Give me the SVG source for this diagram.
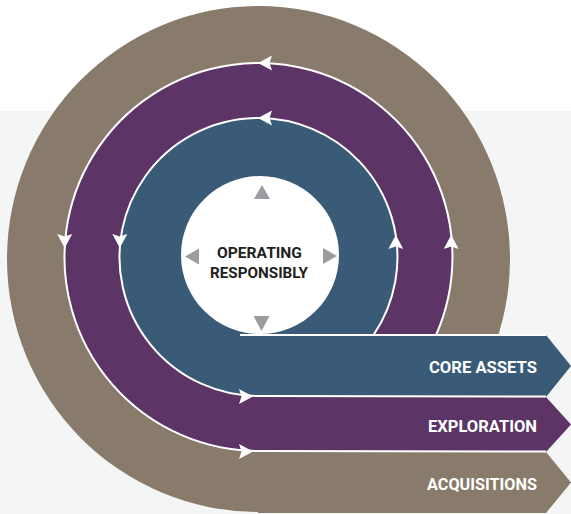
<svg xmlns="http://www.w3.org/2000/svg" xmlns:xlink="http://www.w3.org/1999/xlink" width="571" height="514" viewBox="0 0 571 514">
  <defs>
    <style>
      .tan { fill: #897b6b; }
      .purple { fill: #5c3466; }
      .blue { fill: #3a5b78; }
      .sep { fill: none; stroke: #ffffff; stroke-width: 2; }
      .tri { fill: #9b9ca0; }
      .band-label { font-family: "Roboto", "Liberation Sans", sans-serif; font-weight: 700; font-size: 17px; fill: #ffffff; text-anchor: end; }
      .hub-label { font-family: "Roboto", "Liberation Sans", sans-serif; font-weight: 700; font-size: 15.5px; fill: #231f20; text-anchor: middle; }
    </style>
    <!-- white arrowhead, tip at origin, pointing along +x -->
    <path id="head" d="M0,0 L-14,-7.5 L-11.5,0 L-14,7.5 Z" fill="#ffffff"/>
  </defs>

  <!-- page background -->
  <rect x="0" y="0" width="571" height="514" fill="#ffffff"/>
  <rect x="0" y="111" width="571" height="403" fill="#f4f5f5"/>

  <!-- concentric rings -->
  <g id="rings">
    <ellipse class="tan" cx="258.5" cy="259" rx="251.5" ry="253"/>
    <circle class="purple" cx="258.5" cy="257" r="194"/>
    <circle class="blue" cx="258.5" cy="257" r="139"/>
  </g>

  <!-- outgoing bands -->
  <g id="core-assets">
    <path class="blue" d="M258,335 L546,335 L571,366 L546,397 L258,397 Z"/>
    <text class="band-label" x="537" y="373" textLength="108" lengthAdjust="spacingAndGlyphs">CORE ASSETS</text>
  </g>
  <g id="exploration">
    <path class="purple" d="M258,397 L546,397 L571,424.5 L546,452 L258,452 Z"/>
    <text class="band-label" x="537" y="432" textLength="109" lengthAdjust="spacingAndGlyphs">EXPLORATION</text>
  </g>
  <g id="acquisitions">
    <path class="tan" d="M258,452 L546,452 L571,482.5 L546,513 L258,513 Z"/>
    <text class="band-label" x="537" y="490" textLength="110" lengthAdjust="spacingAndGlyphs">ACQUISITIONS</text>
  </g>

  <!-- hub -->
  <g id="operating-responsibly">
    <circle cx="260" cy="255" r="79" fill="#ffffff"/>
    <path class="tri" d="M262,185 L270,199 L254,199 Z"/>
    <path class="tri" d="M185,256.5 L199,248.5 L199,264.5 Z"/>
    <path class="tri" d="M337,256 L323,248 L323,264 Z"/>
    <path class="tri" d="M261.5,331 L269.5,316 L253.5,316 Z"/>
    <text class="hub-label" x="259.5" y="258" textLength="85" lengthAdjust="spacingAndGlyphs">OPERATING</text>
    <text class="hub-label" x="259" y="278" textLength="98" lengthAdjust="spacingAndGlyphs">RESPONSIBLY</text>
  </g>

  <!-- flow separators with direction arrows -->
  <g id="connectors">
    <line class="sep" x1="240" y1="335" x2="546" y2="335" stroke-width="2.5"/>
    <path class="sep" d="M373.5,335 A139,139 0 1 0 258.5,396 L546,396.5"/>
    <path class="sep" d="M436.1,335 A194,194 0 1 0 258.5,451 L546,451.5"/>

    <use xlink:href="#head" transform="translate(258,118) rotate(180)"/>
    <use xlink:href="#head" transform="translate(119.8,248) rotate(90)"/>
    <use xlink:href="#head" transform="translate(395.8,235) rotate(-90)"/>
    <use xlink:href="#head" transform="translate(253,396.5)"/>

    <use xlink:href="#head" transform="translate(258,63) rotate(180)"/>
    <use xlink:href="#head" transform="translate(64.7,248) rotate(90)"/>
    <use xlink:href="#head" transform="translate(451.2,235) rotate(-90)"/>
    <use xlink:href="#head" transform="translate(253,451.5)"/>
  </g>
</svg>
